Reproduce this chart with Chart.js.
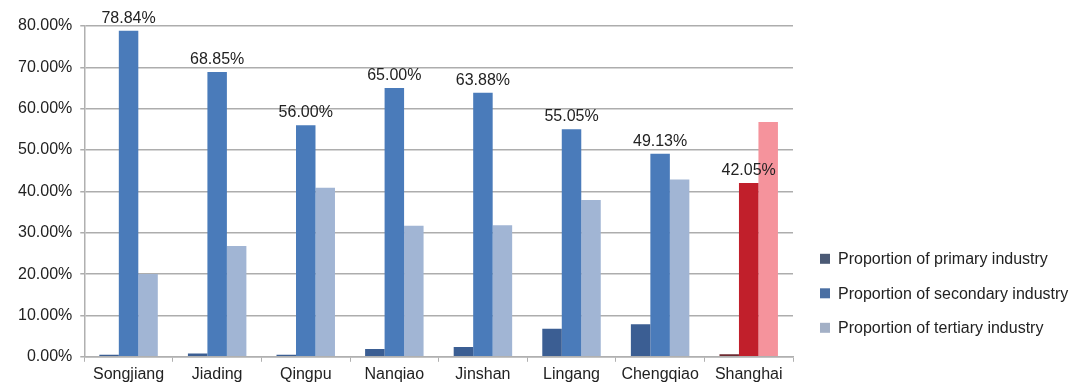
<!DOCTYPE html>
<html>
<head>
<meta charset="utf-8">
<script src="https://cdn.jsdelivr.net/npm/chart.js@4"></script>
<style>
  html, body { margin: 0; padding: 0; background: #fff; }
  #wrap { width: 1075px; height: 387px; position: relative; }
</style>
</head>
<body>
<div id="wrap"><canvas id="industryChart"></canvas></div>
<script>
// Data for the chart
const districts = ['Songjiang', 'Jiading', 'Qingpu', 'Nanqiao', 'Jinshan', 'Lingang', 'Chengqiao', 'Shanghai'];
const primaryShare = [0.5, 0.8, 0.5, 1.9, 2.4, 6.8, 7.9, 0.6];
const secondaryShare = [78.84, 68.85, 56.00, 65.00, 63.88, 55.05, 49.13, 42.05];
const tertiaryShare = [20.0, 26.8, 40.9, 31.7, 31.8, 37.9, 42.9, 56.8];
const seriesNames = ['Proportion of primary industry', 'Proportion of secondary industry', 'Proportion of tertiary industry'];
const yTicks = [0, 10, 20, 30, 40, 50, 60, 70, 80];

// Shanghai is drawn in reds, the districts in blues
const blues = ['#3b5e93', '#4a7bba', '#a1b5d4'];
const reds = ['#6e2a30', '#c11f2b', '#f5939c'];
const legendSwatch = ['#4b5a75', '#4a6fa3', '#a3b0c6'];

function colorsFor(i) {
    return districts.map(d => d === 'Shanghai' ? reds[i] : blues[i]);
}

const FONT = 'Liberation Sans, Arial, Helvetica, sans-serif';

// Labels over the secondary bars
const valueLabels = {
    id: 'valueLabels',
    afterDatasetsDraw(chart) {
        const ctx = chart.ctx;
        const meta = chart.getDatasetMeta(1);
        ctx.save();
        ctx.font = '16px ' + FONT;
        ctx.fillStyle = '#222';
        ctx.textAlign = 'center';
        ctx.textBaseline = 'alphabetic';
        meta.data.forEach((bar, i) => {
            ctx.fillText(secondaryShare[i].toFixed(2) + '%', bar.x, bar.y - 8);
        });
        ctx.restore();
    }
};

// Legend on the right, low down
const sideLegend = {
    id: 'sideLegend',
    afterDraw(chart) {
        const ctx = chart.ctx;
        const area = chart.chartArea;
        const x = area.right + 27;
        ctx.save();
        ctx.font = '16px ' + FONT;
        ctx.textBaseline = 'middle';
        chart.data.datasets.forEach((ds, i) => {
            const y = area.bottom - 98 + i * 34.5;
            ctx.fillStyle = legendSwatch[i];
            ctx.fillRect(x, y - 5, 10, 10);
            ctx.fillStyle = '#222';
            ctx.fillText(ds.label, x + 18, y + 1);
        });
        ctx.restore();
    }
};

const config = {
    type: 'bar',
    data: {
        labels: districts,
        datasets: [
            { label: seriesNames[0], data: primaryShare, backgroundColor: colorsFor(0) },
            { label: seriesNames[1], data: secondaryShare, backgroundColor: colorsFor(1) },
            { label: seriesNames[2], data: tertiaryShare, backgroundColor: colorsFor(2) }
        ]
    },
    options: {
        responsive: true,
        maintainAspectRatio: false,
        animation: false,
        categoryPercentage: 0.66,
        barPercentage: 1.0,
        layout: { padding: { left: 10, right: 282, top: 26, bottom: 0 } },
        plugins: {
            legend: { display: false },
            tooltip: { enabled: false }
        },
        scales: {
            x: {
                grid: { drawOnChartArea: false, color: '#b0b0b0', tickLength: 5, lineWidth: 1 },
                border: { color: '#b0b0b0', width: 1.5 },
                ticks: { color: '#222', font: { family: FONT, size: 16 }, padding: 3, maxRotation: 0 }
            },
            y: {
                min: 0,
                max: 80,
                afterBuildTicks(axis) {
                    axis.ticks = yTicks.map(v => ({ value: v }));
                },
                grid: { color: '#adadad', lineWidth: 1.5, tickLength: 4 },
                border: { color: '#b0b0b0', width: 1.5 },
                ticks: {
                    color: '#222',
                    font: { family: FONT, size: 16 },
                    padding: 8,
                    callback: v => v.toFixed(2) + '%'
                }
            }
        }
    },
    plugins: [valueLabels, sideLegend]
};

window.onload = function() {
    const ctx = document.getElementById('industryChart').getContext('2d');
    new Chart(ctx, config);
};
</script>
</body>
</html>
